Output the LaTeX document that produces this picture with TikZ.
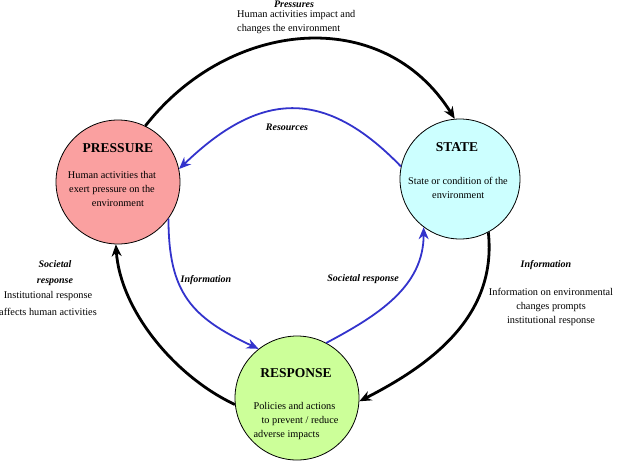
\documentclass[tikz,border=0pt]{standalone}
\usepackage{fontspec}
\setmainfont{Liberation Serif}
\usetikzlibrary{arrows.meta}
\definecolor{pfill}{RGB}{250,160,160}
\definecolor{sfill}{RGB}{204,255,255}
\definecolor{rfill}{RGB}{204,255,153}
\definecolor{bluearc}{RGB}{51,51,204}
\tikzset{
  phase/.style={circle,draw=black,line width=0.8pt,minimum size=#1,inner sep=0pt},
  title/.style={font=\fontsize{13.5}{15}\selectfont\bfseries,inner sep=0pt},
  body/.style={font=\fontsize{10.3}{13.8}\selectfont,inner sep=0pt,align=center},
  lab/.style={font=\fontsize{10}{16}\selectfont\bfseries\itshape,inner sep=0pt},
  outer/.style={line width=2.8pt,black,-{Stealth[length=12pt,width=10pt]}},
  inner/.style={line width=1.8pt,bluearc,-{Stealth[length=12pt,width=10pt]}},
}
\begin{document}
\begin{tikzpicture}[x=1pt,y=1pt]
\useasboundingbox (0,0) rectangle (620,-464);
% circles
\node[phase=124pt,fill=pfill] (P) at (118,-182) {};
\node[phase=120pt,fill=sfill] (S) at (460,-179) {};
\node[phase=124pt,fill=rfill] (R) at (297,-398) {};
% texts in circles
\node[title] (Pt) at (118,-148) {PRESSURE};
\node[body] (Pb) at (112,-189) {Human activities that\\exert pressure on the\\\hspace*{12pt}environment};
\node[title] (St) at (457,-147) {STATE};
\node[body,align=left] (Sb) at (458,-188) {State or condition of the\\\hspace*{24pt}environment};
\node[title] (Rt) at (296,-373) {RESPONSE};
\node[body,align=left] (Rb) at (296,-421) {Policies and actions\\\hspace*{8pt}to prevent / reduce\\adverse impacts};
% outer arcs
\draw[outer] (P.64) to[out=52,in=122,looseness=1.12] (S.95);
\draw[outer] (S.-62) to[out=-84,in=27,looseness=1.0] (R.-3);
\draw[outer] (R.186) to[out=155,in=-86,looseness=0.85] (P.-92);
% inner arcs
\draw[inner] (S.168) to[out=134,in=44,looseness=1.28] (P.12);
\draw[inner] (P.-36) to[out=-90,in=155,looseness=1.2] (R.128);
\draw[inner] (R.62) to[out=28,in=-90,looseness=1.0] (S.-127);
% labels
\node[lab] (L1) at (294,-4) {Pressures};
\node[body,align=left,anchor=west,font=\fontsize{10.3}{14}\selectfont] (L1b) at (237,-22) {Human activities impact and\\changes the environment};
\node[lab] (L2) at (287,-127) {Resources};
\node[lab] (L3) at (206,-280) {Information};
\node[lab] (L4) at (363,-279) {Societal response};
\node[lab,align=center] (L5) at (55,-273) {Societal\\response};
\node[body,font=\fontsize{10.3}{17}\selectfont] (L5b) at (48,-303) {Institutional response\\affects human activities};
\node[lab] (L6) at (546,-265) {Information};
\node[body,font=\fontsize{10.3}{14}\selectfont] (L6b) at (551,-307) {Information on environmental\\changes prompts\\institutional response};
\end{tikzpicture}
\end{document}
